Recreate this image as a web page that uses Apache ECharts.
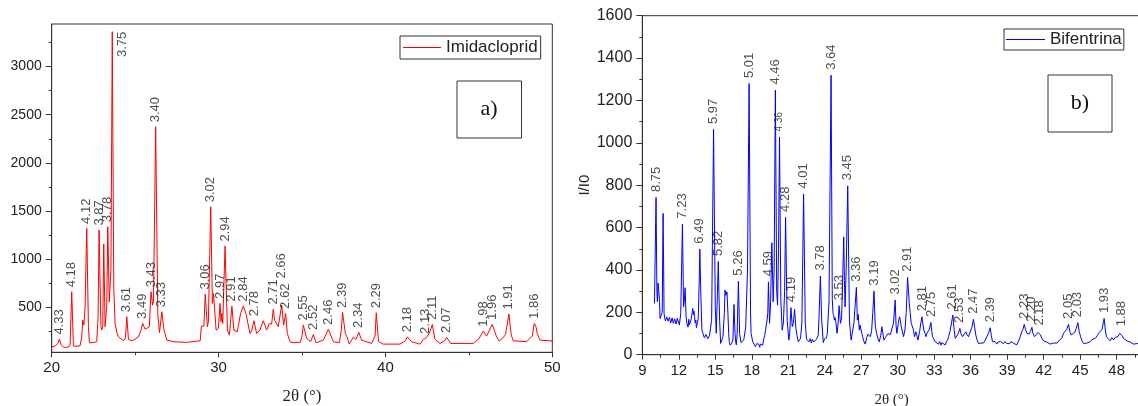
<!DOCTYPE html>
<html>
<head>
<meta charset="utf-8">
<script src="https://cdn.jsdelivr.net/npm/echarts@6/dist/echarts.min.js"></script>
<style>
  html, body { margin: 0; padding: 0; background: #fff; }
  #chart { width: 1138px; height: 406px; }
</style>
</head>
<body>
<div id="chart"></div>
<script>
// ---------- Imidacloprid diffractogram (2θ in degrees, intensity in counts) ----------
// Labelled reflections: [2θ, intensity, d-spacing]
const imidaPeaks = [
  [20.46, 167, '4.33'], [21.20, 659, '4.18'], [22.10, 1318, '4.12'], [22.84, 1301, '3.87'],
  [23.36, 1336, '3.78'], [23.63, 3363, '3.75'], [24.50, 400, '3.61'], [25.45, 330, '3.49'],
  [25.95, 659, '3.43'], [26.23, 2375, '3.40'], [26.60, 451, '3.33'], [29.20, 635, '3.06'],
  [29.53, 1543, '3.02'], [30.09, 538, '2.97'], [30.39, 1134, '2.94'], [30.80, 510, '2.91'],
  [31.48, 510, '2.84'], [32.12, 358, '2.78'], [33.28, 479, '2.71'], [33.78, 521, '2.66'],
  [34.02, 434, '2.62'], [35.08, 313, '2.55'], [35.68, 216, '2.52'], [36.58, 268, '2.46'],
  [37.43, 445, '2.39'], [38.41, 237, '2.34'], [39.45, 441, '2.29'], [41.31, 191, '2.18'],
  [42.41, 174, '2.13'], [42.81, 320, '2.11'], [43.67, 185, '2.07'], [45.86, 250, '1.98'],
  [46.40, 320, '1.96'], [47.40, 428, '1.91'], [48.92, 330, '1.86']
];
// Remaining trace points between the labelled maxima: [2θ, intensity]
const imidaProfile = [
  [20.00, 87], [20.20, 94], [20.36, 120], [20.56, 110], [20.70, 84], [20.90, 80], [21.10, 98],
  [21.30, 96], [21.45, 92], [21.70, 98], [21.80, 190], [21.86, 365], [21.93, 313], [22.00, 500],
  [22.20, 300], [22.26, 129], [22.50, 132], [22.70, 140], [22.78, 400], [22.95, 300], [23.00, 261],
  [23.06, 296], [23.12, 1155], [23.20, 296], [23.30, 520], [23.45, 555], [23.55, 900],
  [23.72, 700], [23.80, 330], [23.90, 240], [24.00, 190], [24.30, 150], [24.42, 180],
  [24.60, 165], [24.75, 152], [24.90, 157], [25.20, 190], [25.35, 260], [25.60, 270],
  [25.70, 261], [25.85, 296], [26.05, 520], [26.10, 560], [26.36, 420], [26.46, 234],
  [26.73, 261], [26.90, 157], [27.30, 140], [28.10, 133], [28.90, 150], [28.97, 302],
  [29.05, 313], [29.12, 302], [29.33, 296], [29.39, 347], [29.63, 538], [29.70, 642],
  [29.79, 417], [29.85, 261], [29.99, 278], [30.15, 347], [30.19, 434], [30.25, 330],
  [30.53, 261], [30.65, 209], [30.92, 261], [31.12, 243], [31.32, 434], [31.64, 434],
  [31.88, 226], [32.00, 261], [32.28, 226], [32.48, 261], [32.68, 358], [32.88, 261],
  [33.04, 330], [33.18, 323], [33.36, 365], [33.42, 370], [33.58, 296], [33.90, 313],
  [34.12, 226], [34.28, 140], [34.48, 129], [34.90, 135], [35.00, 200], [35.28, 174],
  [35.52, 140], [35.60, 160], [35.84, 129], [36.28, 157], [36.45, 220], [36.88, 140],
  [37.24, 129], [37.35, 250], [37.53, 313], [37.60, 226], [37.70, 190], [37.83, 115],
  [38.07, 185], [38.23, 164], [38.57, 157], [39.17, 122], [39.38, 200], [39.59, 140],
  [39.87, 115], [40.87, 115], [41.20, 150], [41.57, 140], [42.07, 115], [42.27, 164],
  [42.50, 165], [42.63, 226], [42.97, 164], [43.27, 122], [43.55, 150], [43.91, 122],
  [45.26, 122], [45.60, 170], [46.06, 198], [46.66, 191], [46.82, 147], [47.10, 191],
  [47.20, 215], [47.54, 209], [47.66, 150], [48.46, 140], [48.80, 200], [49.02, 296],
  [49.10, 226], [49.26, 157], [50.00, 147]
];
const imidaYTicks = [500, 1000, 1500, 2000, 2500, 3000];
const imidaYMinorTicks = [250, 750, 1250, 1750, 2250, 2750, 3250];

// ---------- Bifentrina diffractogram (2θ in degrees, I/I0) ----------
const bifenPeaks = [
  [10.13, 742, '8.75'], [12.30, 616, '7.23'], [13.73, 498, '6.49'], [14.86, 1063, '5.97'],
  [15.25, 440, '5.82'], [16.90, 347, '5.26'], [17.78, 1280, '5.01'], [19.37, 344, '4.59'],
  [19.94, 1249, '4.46'], [20.28, 1028, '4.36'], [20.78, 648, '4.28'], [21.22, 222, '4.19'],
  [22.26, 758, '4.01'], [23.64, 371, '3.78'], [24.52, 1319, '3.64'], [25.18, 231, '3.53'],
  [25.89, 797, '3.45'], [26.60, 318, '3.36'], [28.05, 300, '3.19'], [29.79, 258, '3.02'],
  [30.81, 365, '2.91'], [31.99, 179, '2.81'], [32.73, 152, '2.75'], [34.53, 187, '2.61'],
  [35.11, 124, '2.53'], [36.23, 167, '2.47'], [37.60, 127, '2.39'], [40.40, 143, '2.23'],
  [41.03, 129, '2.20'], [41.63, 112, '2.18'], [44.04, 143, '2.05'], [44.81, 151, '2.03'],
  [46.97, 171, '1.93'], [48.37, 108, '1.88']
];
const bifenProfile = [
  [10.00, 242], [10.20, 300], [10.24, 250], [10.30, 338], [10.35, 335], [10.42, 250],
  [10.46, 171], [10.55, 180], [10.64, 200], [10.71, 667], [10.79, 195], [10.85, 170],
  [10.90, 160], [10.96, 163], [11.02, 178], [11.07, 182], [11.12, 158], [11.18, 160],
  [11.23, 176], [11.29, 179], [11.34, 150], [11.39, 156], [11.45, 174], [11.50, 171],
  [11.55, 148], [11.61, 151], [11.66, 170], [11.72, 167], [11.78, 145], [11.83, 159],
  [11.88, 172], [11.94, 163], [12.00, 150], [12.05, 140], [12.16, 195], [12.39, 226],
  [12.45, 250], [12.52, 316], [12.60, 179], [12.66, 150], [12.71, 148], [12.76, 130],
  [12.82, 167], [12.87, 140], [12.93, 145], [12.98, 160], [13.03, 171], [13.10, 200],
  [13.15, 218], [13.20, 190], [13.25, 205], [13.30, 179], [13.35, 150], [13.40, 163],
  [13.45, 128], [13.49, 140], [13.60, 171], [13.68, 352], [13.81, 289], [13.90, 116],
  [13.96, 105], [14.03, 101], [14.10, 80], [14.17, 85], [14.24, 95], [14.31, 97],
  [14.38, 75], [14.45, 77], [14.52, 90], [14.58, 85], [14.70, 163], [15.00, 226],
  [15.08, 101], [15.30, 289], [15.36, 160], [15.44, 53], [15.52, 60], [15.63, 85],
  [15.75, 200], [15.80, 305], [15.88, 280], [15.96, 297], [16.04, 195], [16.10, 100],
  [16.15, 61], [16.22, 45], [16.29, 38], [16.36, 55], [16.45, 69], [16.54, 237],
  [16.62, 101], [16.68, 60], [16.73, 46], [16.80, 100], [17.00, 101], [17.11, 57],
  [17.20, 50], [17.34, 69], [17.50, 130], [17.65, 400], [17.90, 200], [17.94, 101],
  [18.08, 61], [18.20, 48], [18.30, 38], [18.40, 52], [18.50, 45], [18.57, 50],
  [18.65, 35], [18.71, 50], [18.80, 58], [18.90, 45], [18.99, 77], [19.06, 90],
  [19.13, 116], [19.20, 108], [19.26, 163], [19.32, 200], [19.46, 148], [19.55, 250],
  [19.65, 528], [19.76, 250], [19.84, 400], [20.05, 300], [20.12, 234], [20.20, 500],
  [20.39, 258], [20.50, 116], [20.60, 150], [20.70, 300], [20.91, 163], [21.05, 69],
  [21.12, 100], [21.33, 132], [21.42, 150], [21.52, 214], [21.63, 124], [21.72, 90],
  [21.82, 61], [21.92, 70], [22.01, 77], [22.12, 150], [22.40, 148], [22.51, 72],
  [22.60, 65], [22.70, 61], [22.80, 75], [22.90, 55], [22.98, 72], [23.10, 60],
  [23.20, 53], [23.30, 72], [23.39, 69], [23.46, 90], [23.53, 179], [23.75, 163],
  [23.88, 57], [23.98, 75], [24.08, 69], [24.15, 80], [24.21, 101], [24.35, 250],
  [24.62, 260], [24.68, 195], [24.74, 185], [24.79, 163], [24.85, 175], [24.90, 160],
  [25.01, 101], [25.10, 150], [25.29, 148], [25.38, 170], [25.45, 300], [25.56, 556],
  [25.62, 350], [25.67, 226], [25.76, 400], [26.03, 163], [26.10, 110], [26.17, 69],
  [26.28, 75], [26.40, 150], [26.68, 163], [26.75, 190], [26.84, 116], [26.90, 140],
  [26.97, 148], [27.05, 100], [27.11, 85], [27.20, 65], [27.33, 50], [27.45, 80],
  [27.55, 97], [27.65, 90], [27.74, 85], [27.85, 110], [27.95, 200], [28.15, 140],
  [28.26, 101], [28.38, 75], [28.48, 61], [28.60, 90], [28.70, 132], [28.78, 100],
  [28.86, 69], [28.98, 80], [29.10, 85], [29.20, 100], [29.30, 108], [29.40, 95],
  [29.52, 101], [29.65, 150], [29.86, 140], [29.93, 101], [30.05, 150], [30.15, 179],
  [30.22, 160], [30.29, 132], [30.38, 110], [30.48, 85], [30.60, 120], [30.70, 200],
  [30.95, 242], [31.02, 200], [31.11, 148], [31.20, 155], [31.28, 120], [31.38, 85],
  [31.49, 108], [31.58, 90], [31.66, 69], [31.80, 110], [31.90, 150], [32.08, 140],
  [32.15, 116], [32.25, 100], [32.32, 85], [32.40, 100], [32.48, 108], [32.60, 120],
  [32.80, 110], [32.86, 85], [32.95, 75], [33.08, 61], [33.20, 55], [33.36, 50],
  [33.45, 62], [33.55, 45], [33.63, 57], [33.75, 50], [33.90, 46], [34.00, 60],
  [34.10, 70], [34.18, 85], [34.30, 110], [34.42, 150], [34.63, 120], [34.73, 77],
  [34.85, 80], [34.98, 100], [35.20, 100], [35.33, 85], [35.45, 90], [35.60, 108],
  [35.70, 95], [35.82, 85], [35.95, 90], [36.10, 130], [36.32, 130], [36.42, 93],
  [36.52, 70], [36.64, 53], [36.75, 62], [36.85, 55], [36.92, 61], [37.05, 55],
  [37.19, 69], [37.30, 70], [37.45, 100], [37.70, 90], [37.79, 61], [37.90, 58],
  [38.00, 62], [38.15, 50], [38.25, 60], [38.35, 55], [38.45, 62], [38.56, 57],
  [38.70, 52], [38.80, 62], [38.97, 53], [39.10, 60], [39.20, 52], [39.30, 62],
  [39.38, 61], [39.50, 55], [39.65, 50], [39.79, 46], [39.90, 60], [40.07, 85],
  [40.20, 110], [40.30, 120], [40.50, 120], [40.62, 101], [40.70, 95], [40.80, 98],
  [40.92, 110], [41.12, 100], [41.25, 85], [41.40, 95], [41.52, 105], [41.72, 95],
  [41.85, 77], [42.00, 65], [42.12, 57], [42.25, 60], [42.40, 55], [42.53, 50],
  [42.65, 58], [42.80, 55], [42.95, 61], [43.10, 55], [43.25, 65], [43.36, 61],
  [43.50, 80], [43.63, 101], [43.75, 100], [43.90, 120], [44.15, 110], [44.26, 93],
  [44.40, 100], [44.55, 105], [44.68, 125], [44.92, 110], [45.03, 85], [45.15, 65],
  [45.27, 53], [45.40, 60], [45.55, 55], [45.68, 61], [45.80, 60], [45.95, 70],
  [46.10, 72], [46.25, 78], [46.40, 90], [46.51, 101], [46.65, 100], [46.80, 120],
  [46.90, 150], [47.06, 120], [47.16, 85], [47.30, 75], [47.47, 66], [47.60, 80],
  [47.75, 70], [47.88, 82], [48.00, 75], [48.10, 85], [48.25, 100], [48.45, 90],
  [48.56, 77], [48.70, 70], [48.85, 65], [48.97, 61], [49.10, 60], [49.25, 55],
  [49.38, 50], [49.50, 58], [49.65, 52], [49.79, 57], [49.95, 55]
];

// ---------- drawing ----------
const INK = '#222';
const AXIS = '#333';
const SANS = '"Liberation Sans", Arial, sans-serif';
const SERIF = '"Liberation Serif", "Times New Roman", serif';

// label tweaks: lifted or compact d-spacing tags
const labelLift = { '2.66': 22 };
const compactLabels = new Set(['4.36']);

// plain integers on the axes, no thousands separators
const plain = v => String(Math.round(v));

function trace(profile, peaks) {
  return profile.concat(peaks.map(p => [p[0], p[1]])).sort((a, b) => a[0] - b[0]);
}

function peakTags(peaks, yMax, dist) {
  return peaks.map(p => {
    const item = { value: [p[0], p[1]], name: p[2] };
    const lbl = {};
    if (p[1] > yMax * 0.9) {
      Object.assign(lbl, { position: 'right', align: 'right', distance: 10 });
    }
    if (labelLift[p[2]] && yMax > 2000) lbl.distance = dist + labelLift[p[2]];
    if (compactLabels.has(p[2])) lbl.fontSize = 10;
    if (Object.keys(lbl).length) item.label = lbl;
    return item;
  });
}

function tagSeries(peaks, idx, yMax, dist) {
  return {
    type: 'scatter', xAxisIndex: idx, yAxisIndex: idx === 0 ? 0 : 2,
    symbolSize: 1, itemStyle: { color: 'rgba(0,0,0,0)' }, silent: true, z: 5,
    data: peakTags(peaks, yMax, dist),
    label: {
      show: true, formatter: '{b}', position: 'top', distance: dist,
      rotate: 90, align: 'left', verticalAlign: 'middle',
      fontSize: 13, color: INK, fontFamily: SANS
    }
  };
}

const imidaMin = 30, imidaMax = 3443;

const chart = echarts.init(document.getElementById('chart'), null, { renderer: 'canvas' });

const axisLine = { show: true, lineStyle: { color: AXIS, width: 1 } };

chart.setOption({
  animation: false,
  backgroundColor: '#fff',
  grid: [
    { left: 51.7, top: 24, right: 585.7, bottom: 53.7, outerBoundsMode: 'none', containLabel: false,
      show: true, borderColor: AXIS, borderWidth: 1, backgroundColor: 'transparent' },
    { left: 642.3, top: 15.7, right: -3, bottom: 51.3, outerBoundsMode: 'none', containLabel: false,
      show: true, borderColor: AXIS, borderWidth: 1, backgroundColor: 'transparent' }
  ],
  legend: [
    {
      data: ['Imidacloprid'], left: 400, top: 36, orient: 'horizontal',
      padding: [3, 3, 3, 3], borderColor: AXIS, borderWidth: 1,
      itemWidth: 38, itemHeight: 14, icon: 'path://M0,0 L38,0 L38,1 L0,1 Z',
      textStyle: { fontSize: 17, color: INK, fontFamily: SANS }
    },
    {
      data: ['Bifentrina'], left: 1004, top: 29, orient: 'horizontal',
      padding: [2, 2, 2, 2], borderColor: AXIS, borderWidth: 1,
      itemWidth: 39, itemHeight: 14, icon: 'path://M0,0 L39,0 L39,1 L0,1 Z',
      textStyle: { fontSize: 17, color: INK, fontFamily: SANS }
    }
  ],
  xAxis: [
    {
      gridIndex: 0, type: 'value', min: 20, max: 50, interval: 10,
      axisLine, splitLine: { show: false },
      axisTick: { show: true, inside: false, length: 5, lineStyle: { color: AXIS } },
      minorTick: { show: true, splitNumber: 2, length: 3, lineStyle: { color: AXIS } },
      axisLabel: { fontSize: 15, color: INK, fontFamily: SANS, margin: 8, formatter: plain },
      name: '2θ (°)', nameLocation: 'middle', nameGap: 36,
      nameTextStyle: { fontFamily: SERIF, fontSize: 17, color: INK }
    },
    {
      gridIndex: 1, type: 'value', min: 9, max: 50, interval: 3,
      axisLine, splitLine: { show: false },
      axisTick: { show: true, inside: false, length: 5, lineStyle: { color: AXIS } },
      minorTick: { show: true, splitNumber: 2, length: 3, lineStyle: { color: AXIS } },
      axisLabel: { fontSize: 15, color: INK, fontFamily: SANS, margin: 9, showMaxLabel: false, formatter: plain },
      name: '2θ (°)', nameLocation: 'middle', nameGap: 38,
      nameTextStyle: { fontFamily: SERIF, fontSize: 15, color: INK }
    }
  ],
  yAxis: [
    {
      gridIndex: 0, type: 'value', min: imidaMin, max: imidaMax, position: 'left',
      axisLine, splitLine: { show: false },
      axisTick: { show: true, inside: false, length: 6, customValues: imidaYTicks, lineStyle: { color: AXIS } },
      axisLabel: { fontSize: 14, color: INK, fontFamily: SANS, margin: 10, customValues: imidaYTicks, formatter: plain }
    },
    {
      gridIndex: 0, type: 'value', min: imidaMin, max: imidaMax, position: 'left', offset: 0,
      axisLine: { show: false }, splitLine: { show: false },
      axisTick: { show: true, inside: false, length: 3, customValues: imidaYMinorTicks, lineStyle: { color: AXIS } },
      axisLabel: { show: false }
    },
    {
      gridIndex: 1, type: 'value', min: 0, max: 1600, interval: 200,
      axisLine, splitLine: { show: false },
      axisTick: { show: true, inside: false, length: 6, lineStyle: { color: AXIS } },
      minorTick: { show: true, splitNumber: 2, length: 3, lineStyle: { color: AXIS } },
      axisLabel: { fontSize: 16, color: INK, fontFamily: SANS, margin: 10, formatter: plain },
      name: 'I/I0', nameLocation: 'middle', nameGap: 48,
      nameTextStyle: { fontFamily: SANS, fontSize: 15, color: INK }
    }
  ],
  series: [
    {
      name: 'Imidacloprid', type: 'line', xAxisIndex: 0, yAxisIndex: 0,
      data: trace(imidaProfile, imidaPeaks), showSymbol: false, symbol: 'none',
      lineStyle: { color: '#ff0000', width: 1 }, itemStyle: { color: '#ff0000' }, z: 3
    },
    {
      name: 'Bifentrina', type: 'line', xAxisIndex: 1, yAxisIndex: 2,
      data: trace(bifenProfile, bifenPeaks), showSymbol: false, symbol: 'none',
      lineStyle: { color: '#0000ff', width: 1 }, itemStyle: { color: '#0000ff' }, z: 3
    },
    tagSeries(imidaPeaks, 0, imidaMax, 4),
    tagSeries(bifenPeaks, 1, 1600, 5)
  ],
  graphic: [
    {
      type: 'group', left: 456.5, top: 80.5,
      children: [
        { type: 'rect', shape: { x: 0, y: 0, width: 64.5, height: 57 }, style: { fill: '#fff', stroke: AXIS, lineWidth: 1 } },
        { type: 'text', x: 32, y: 28.5, style: { text: 'a)', font: '22px ' + SERIF, fill: '#111', align: 'center', verticalAlign: 'middle' } }
      ]
    },
    {
      type: 'group', left: 1047.5, top: 74.5,
      children: [
        { type: 'rect', shape: { x: 0, y: 0, width: 64, height: 57 }, style: { fill: '#fff', stroke: AXIS, lineWidth: 1 } },
        { type: 'text', x: 32, y: 28.5, style: { text: 'b)', font: '22px ' + SERIF, fill: '#111', align: 'center', verticalAlign: 'middle' } }
      ]
    }
  ]
});
</script>
</body>
</html>
